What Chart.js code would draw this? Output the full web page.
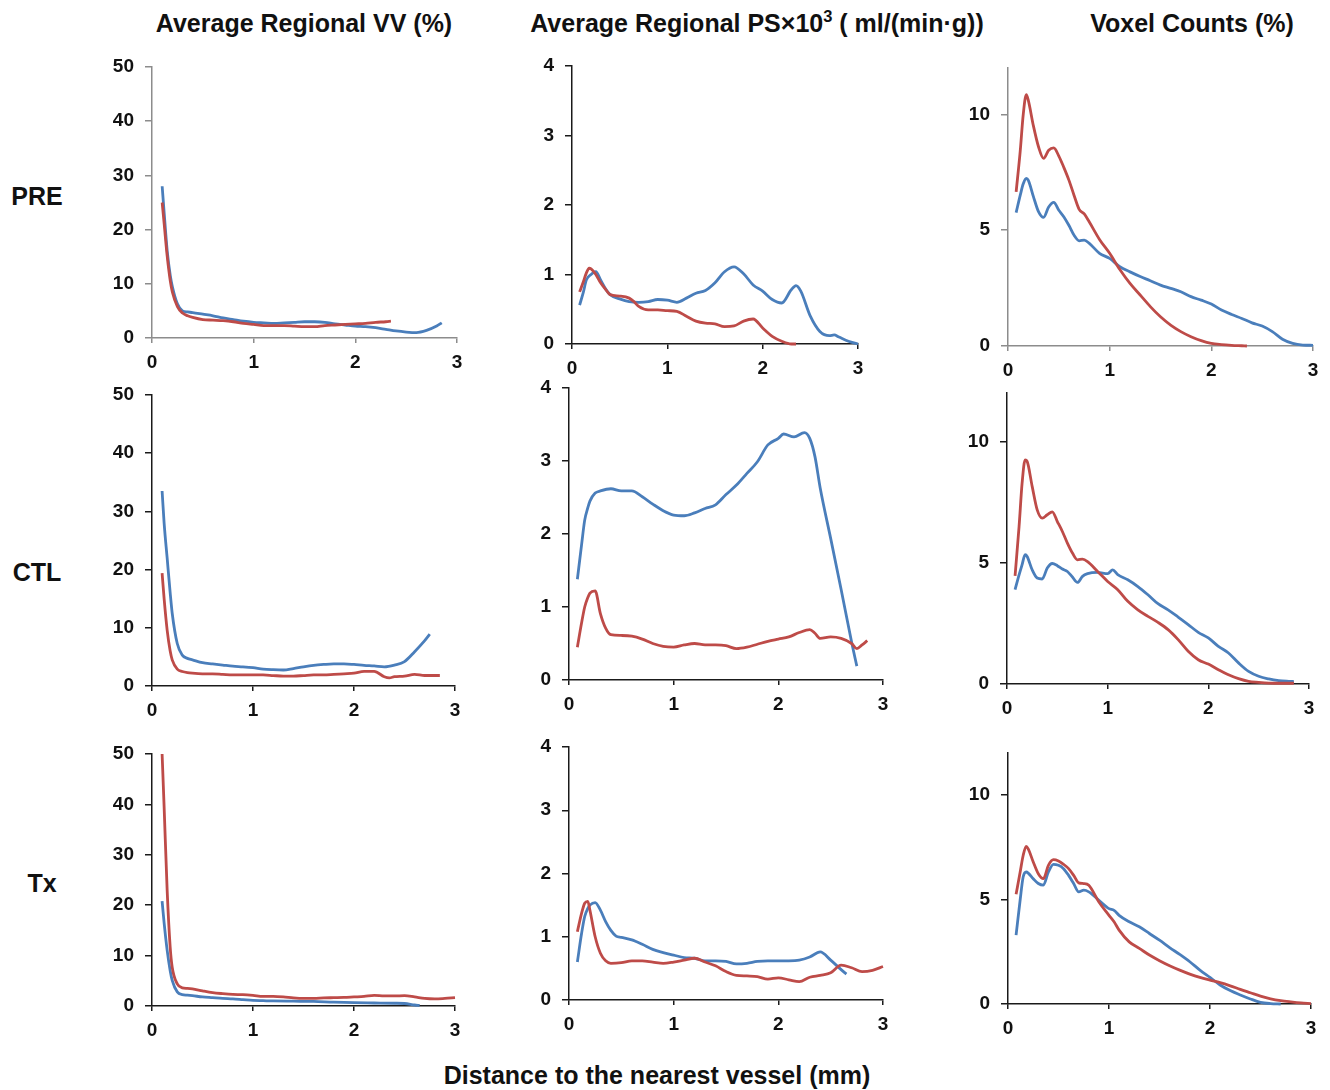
<!DOCTYPE html>
<html>
<head>
<meta charset="utf-8">
<script src="https://cdn.jsdelivr.net/npm/chart.js@4.4.1/dist/chart.umd.min.js"></script>
<style>
  body { margin: 0; width: 1330px; height: 1090px; background: #fff; position: relative; overflow: hidden;
         font-family: 'Liberation Sans', Arial, sans-serif; font-weight: bold; color: #111; }
  .label { position: absolute; white-space: nowrap; transform: translate(-50%, -50%); }
  .title { font-size: 25px; }
  .row { font-size: 25px; }
  .panel { position: absolute; }
  sup { font-size: 0.66em; vertical-align: 0.55em; line-height: 0; }
</style>
</head>
<body>
<div class="label title" style="left:304px; top:23px">Average Regional VV (%)</div>
<div class="label title" style="left:757px; top:23px">Average Regional PS×10<sup>3</sup> ( ml/(min·g))</div>
<div class="label title" style="left:1192px; top:23px">Voxel Counts (%)</div>
<div class="label row" style="left:37px; top:196px">PRE</div>
<div class="label row" style="left:37px; top:572px">CTL</div>
<div class="label row" style="left:42px; top:883px">Tx</div>
<div class="label title" style="left:657px; top:1075px">Distance to the nearest vessel (mm)</div>

<script>
// [distance (mm), value]
const vvPreRed = [[0.1,25],[0.12,21],[0.15,15],[0.18,10.5],[0.2,8.5],[0.25,5.8],[0.3,4.6],[0.35,4.1],[0.4,3.8],[0.5,3.4],[0.6,3.3],[0.7,3.2],[0.8,3.0],[0.9,2.7],[1.0,2.5],[1.1,2.3],[1.2,2.3],[1.3,2.3],[1.4,2.2],[1.5,2.1],[1.6,2.1],[1.7,2.3],[1.8,2.4],[1.9,2.5],[2.0,2.6],[2.1,2.7],[2.2,2.9],[2.3,3.0],[2.35,3.1]]
const vvPreBlue = [[0.1,28],[0.12,23],[0.15,16],[0.18,11.5],[0.2,9.5],[0.25,6.3],[0.3,5.0],[0.35,4.8],[0.4,4.7],[0.5,4.4],[0.6,4.1],[0.7,3.7],[0.8,3.4],[0.9,3.1],[1.0,2.9],[1.1,2.8],[1.2,2.7],[1.3,2.8],[1.4,2.9],[1.5,3.0],[1.6,3.0],[1.7,2.9],[1.8,2.6],[1.9,2.4],[2.0,2.2],[2.1,2.1],[2.2,1.9],[2.3,1.6],[2.4,1.3],[2.5,1.1],[2.6,1.0],[2.7,1.4],[2.8,2.2],[2.85,2.8]]

const psPreRed = [[0.08,0.75],[0.12,0.9],[0.15,1.02],[0.18,1.09],[0.2,1.08],[0.25,1.0],[0.3,0.88],[0.35,0.79],[0.4,0.71],[0.5,0.69],[0.6,0.66],[0.65,0.61],[0.7,0.54],[0.8,0.49],[0.9,0.49],[1.0,0.48],[1.1,0.47],[1.2,0.40],[1.3,0.33],[1.4,0.30],[1.5,0.29],[1.6,0.25],[1.7,0.26],[1.8,0.33],[1.9,0.36],[2.0,0.23],[2.1,0.11],[2.2,0.04],[2.3,0.0],[2.35,0.0]]
const psPreBlue = [[0.08,0.56],[0.12,0.75],[0.15,0.92],[0.2,1.0],[0.25,1.04],[0.3,0.92],[0.35,0.8],[0.4,0.71],[0.5,0.65],[0.6,0.61],[0.7,0.6],[0.8,0.61],[0.9,0.64],[1.0,0.63],[1.1,0.6],[1.2,0.66],[1.3,0.73],[1.4,0.77],[1.5,0.88],[1.6,1.04],[1.7,1.11],[1.8,1.01],[1.9,0.85],[2.0,0.76],[2.1,0.64],[2.2,0.59],[2.3,0.78],[2.35,0.84],[2.4,0.76],[2.5,0.40],[2.6,0.18],[2.7,0.12],[2.75,0.13],[2.8,0.10],[2.9,0.04],[3.0,0.0]]

const voxPreRed = [[0.08,6.65],[0.12,8.4],[0.15,10.0],[0.18,10.85],[0.2,10.6],[0.25,9.5],[0.3,8.6],[0.35,8.1],[0.4,8.45],[0.45,8.55],[0.5,8.2],[0.55,7.7],[0.6,7.15],[0.65,6.5],[0.7,5.9],[0.75,5.7],[0.8,5.35],[0.9,4.6],[1.0,4.0],[1.1,3.3],[1.2,2.7],[1.3,2.2],[1.4,1.7],[1.5,1.26],[1.6,0.9],[1.7,0.62],[1.8,0.4],[1.9,0.23],[2.0,0.11],[2.1,0.06],[2.2,0.03],[2.3,0.01],[2.35,0.0]]
const voxPreBlue = [[0.08,5.76],[0.12,6.5],[0.15,7.0],[0.18,7.23],[0.2,7.15],[0.25,6.45],[0.3,5.8],[0.35,5.55],[0.4,6.0],[0.45,6.2],[0.5,5.86],[0.55,5.57],[0.6,5.2],[0.65,4.78],[0.7,4.54],[0.75,4.57],[0.8,4.43],[0.9,4.0],[1.0,3.78],[1.1,3.42],[1.2,3.2],[1.3,3.0],[1.4,2.82],[1.5,2.63],[1.6,2.49],[1.7,2.34],[1.8,2.13],[1.9,1.98],[2.0,1.81],[2.1,1.55],[2.2,1.36],[2.3,1.19],[2.4,1.0],[2.5,0.86],[2.6,0.62],[2.7,0.29],[2.8,0.11],[2.9,0.04],[3.0,0.03]]

const vvCtlRed = [[0.1,19.4],[0.12,15],[0.15,9.6],[0.18,6],[0.2,4.5],[0.25,2.9],[0.3,2.5],[0.35,2.3],[0.4,2.2],[0.5,2.1],[0.6,2.1],[0.7,2.0],[0.8,1.9],[0.9,1.9],[1.0,1.9],[1.1,1.9],[1.2,1.8],[1.3,1.7],[1.4,1.7],[1.5,1.8],[1.6,1.9],[1.7,1.9],[1.8,2.0],[1.9,2.1],[2.0,2.2],[2.1,2.5],[2.2,2.5],[2.3,1.6],[2.35,1.4],[2.4,1.6],[2.5,1.7],[2.6,2.0],[2.7,1.8],[2.8,1.8],[2.85,1.8]]
const vvCtlBlue = [[0.1,33.5],[0.12,28],[0.15,22],[0.18,16],[0.2,12.5],[0.25,7.3],[0.3,5.3],[0.35,4.75],[0.4,4.5],[0.5,4.0],[0.6,3.8],[0.7,3.6],[0.8,3.4],[0.9,3.3],[1.0,3.15],[1.1,2.9],[1.2,2.8],[1.3,2.75],[1.4,3.0],[1.5,3.3],[1.6,3.55],[1.7,3.7],[1.8,3.8],[1.9,3.8],[2.0,3.7],[2.1,3.55],[2.2,3.45],[2.3,3.3],[2.4,3.6],[2.5,4.2],[2.6,5.9],[2.7,7.8],[2.75,8.9]]

const psCtlRed = [[0.08,0.45],[0.12,0.78],[0.15,1.0],[0.18,1.13],[0.2,1.19],[0.25,1.22],[0.3,0.91],[0.35,0.71],[0.4,0.62],[0.5,0.61],[0.6,0.6],[0.7,0.56],[0.8,0.5],[0.9,0.46],[1.0,0.45],[1.1,0.48],[1.2,0.5],[1.3,0.48],[1.4,0.48],[1.5,0.47],[1.6,0.43],[1.7,0.45],[1.8,0.49],[1.9,0.53],[2.0,0.56],[2.1,0.59],[2.2,0.65],[2.3,0.69],[2.35,0.64],[2.4,0.57],[2.5,0.59],[2.6,0.57],[2.7,0.5],[2.75,0.43],[2.8,0.48],[2.85,0.54]]
const psCtlBlue = [[0.08,1.38],[0.12,1.85],[0.15,2.19],[0.18,2.36],[0.2,2.45],[0.25,2.56],[0.3,2.59],[0.4,2.62],[0.5,2.59],[0.6,2.59],[0.7,2.51],[0.8,2.41],[0.9,2.32],[1.0,2.26],[1.1,2.25],[1.2,2.29],[1.3,2.35],[1.4,2.4],[1.5,2.54],[1.6,2.67],[1.7,2.83],[1.8,2.99],[1.9,3.22],[2.0,3.31],[2.05,3.37],[2.15,3.33],[2.25,3.39],[2.3,3.31],[2.35,3.06],[2.4,2.63],[2.5,1.94],[2.6,1.24],[2.7,0.52],[2.75,0.19]]

const voxCtlRed = [[0.08,4.46],[0.12,6.5],[0.15,8.28],[0.18,9.24],[0.2,9.18],[0.25,8.15],[0.3,7.18],[0.35,6.84],[0.4,6.98],[0.45,7.1],[0.5,6.7],[0.55,6.29],[0.6,5.81],[0.65,5.4],[0.7,5.12],[0.75,5.15],[0.8,5.05],[0.9,4.64],[1.0,4.23],[1.1,3.89],[1.2,3.41],[1.3,3.06],[1.4,2.79],[1.5,2.54],[1.6,2.24],[1.7,1.83],[1.8,1.35],[1.9,1.0],[2.0,0.82],[2.1,0.59],[2.2,0.38],[2.3,0.22],[2.4,0.11],[2.5,0.07],[2.6,0.04],[2.7,0.03],[2.8,0.03],[2.85,0.03]]
const voxCtlBlue = [[0.08,3.89],[0.12,4.5],[0.15,4.92],[0.18,5.33],[0.2,5.26],[0.25,4.71],[0.3,4.37],[0.35,4.33],[0.4,4.78],[0.45,4.97],[0.5,4.88],[0.55,4.74],[0.6,4.64],[0.65,4.41],[0.7,4.19],[0.75,4.44],[0.8,4.55],[0.9,4.6],[1.0,4.55],[1.05,4.71],[1.1,4.51],[1.2,4.3],[1.3,4.02],[1.4,3.68],[1.5,3.31],[1.6,3.06],[1.7,2.76],[1.8,2.45],[1.9,2.13],[2.0,1.9],[2.1,1.55],[2.2,1.28],[2.3,0.87],[2.4,0.52],[2.5,0.32],[2.6,0.21],[2.7,0.14],[2.8,0.11],[2.85,0.1]]

const vvTxRed = [[0.1,50],[0.12,39.5],[0.15,23],[0.18,11.7],[0.2,7.7],[0.25,4.4],[0.3,3.6],[0.35,3.5],[0.4,3.4],[0.5,3.0],[0.6,2.65],[0.7,2.45],[0.8,2.3],[0.9,2.25],[1.0,2.1],[1.1,1.9],[1.2,1.9],[1.3,1.8],[1.4,1.6],[1.5,1.5],[1.6,1.5],[1.7,1.6],[1.8,1.65],[1.9,1.7],[2.0,1.8],[2.1,1.9],[2.2,2.1],[2.3,2.0],[2.4,2.0],[2.5,2.05],[2.6,1.8],[2.7,1.5],[2.8,1.4],[2.9,1.5],[3.0,1.65]]
const vvTxBlue = [[0.1,20.8],[0.12,16.5],[0.15,11.1],[0.18,7],[0.2,5.1],[0.25,2.8],[0.3,2.25],[0.35,2.15],[0.4,2.05],[0.5,1.8],[0.6,1.65],[0.7,1.5],[0.8,1.4],[0.9,1.25],[1.0,1.1],[1.1,1.05],[1.2,1.0],[1.4,0.95],[1.6,0.9],[1.8,0.75],[2.0,0.65],[2.2,0.6],[2.4,0.55],[2.5,0.5],[2.6,0.2],[2.65,0.1]]

const psTxRed = [[0.08,1.08],[0.12,1.37],[0.15,1.53],[0.18,1.56],[0.2,1.42],[0.25,1.0],[0.3,0.74],[0.35,0.62],[0.4,0.58],[0.5,0.59],[0.6,0.62],[0.7,0.62],[0.8,0.6],[0.9,0.58],[1.0,0.6],[1.1,0.63],[1.2,0.66],[1.3,0.6],[1.4,0.54],[1.5,0.45],[1.6,0.39],[1.7,0.38],[1.8,0.37],[1.9,0.33],[2.0,0.35],[2.1,0.32],[2.2,0.29],[2.3,0.36],[2.4,0.39],[2.5,0.43],[2.6,0.55],[2.7,0.51],[2.8,0.45],[2.9,0.47],[3.0,0.53]]
const psTxBlue = [[0.08,0.6],[0.12,1.05],[0.15,1.32],[0.18,1.45],[0.2,1.5],[0.25,1.54],[0.3,1.42],[0.35,1.24],[0.4,1.1],[0.45,1.01],[0.5,0.99],[0.6,0.95],[0.7,0.88],[0.8,0.8],[0.9,0.75],[1.0,0.71],[1.1,0.67],[1.2,0.66],[1.3,0.62],[1.4,0.62],[1.5,0.61],[1.6,0.57],[1.7,0.58],[1.8,0.61],[1.9,0.62],[2.0,0.62],[2.1,0.62],[2.2,0.63],[2.3,0.68],[2.4,0.76],[2.5,0.63],[2.6,0.48],[2.65,0.41]]

const voxTxRed = [[0.08,5.25],[0.12,6.3],[0.15,7.1],[0.18,7.54],[0.2,7.42],[0.25,6.79],[0.3,6.23],[0.35,5.99],[0.4,6.63],[0.45,6.9],[0.5,6.84],[0.55,6.68],[0.6,6.47],[0.65,6.15],[0.7,5.79],[0.75,5.76],[0.8,5.68],[0.9,4.88],[1.0,4.24],[1.05,3.93],[1.1,3.53],[1.2,2.97],[1.3,2.66],[1.4,2.34],[1.5,2.07],[1.6,1.83],[1.7,1.62],[1.8,1.43],[1.9,1.27],[2.0,1.14],[2.1,1.02],[2.2,0.87],[2.3,0.7],[2.4,0.54],[2.5,0.38],[2.6,0.25],[2.7,0.16],[2.8,0.1],[2.9,0.05],[3.0,0.02]]
const voxTxBlue = [[0.08,3.29],[0.12,4.96],[0.15,6.07],[0.18,6.31],[0.2,6.26],[0.25,5.99],[0.3,5.76],[0.35,5.68],[0.4,6.31],[0.45,6.68],[0.5,6.63],[0.55,6.47],[0.6,6.15],[0.65,5.76],[0.7,5.36],[0.75,5.44],[0.8,5.36],[0.9,4.96],[1.0,4.56],[1.05,4.48],[1.1,4.24],[1.2,3.93],[1.3,3.69],[1.4,3.37],[1.5,3.05],[1.6,2.7],[1.7,2.37],[1.8,2.02],[1.9,1.62],[2.0,1.27],[2.1,0.91],[2.2,0.64],[2.3,0.43],[2.4,0.24],[2.5,0.08],[2.6,0.02],[2.7,0.0]]

// y axis settings per column
const vvAxis = {max: 50, step: 10}
const psAxis = {max: 4, step: 1}
const voxAxis = {max: 12, step: 5}

const RED = '#be4b48'
const BLUE = '#4a7ebb'
const GREY = '#8c8c8c'
const DARK = '#1a1a1a'

// plot box in page pixels: left axis x, top, right (x=3), bottom (y=0)
const panels = [
    {red: vvPreRed,  blue: vvPreBlue,  axis: vvAxis,  box: [152, 67, 457, 338],   line: GREY},
    {red: psPreRed,  blue: psPreBlue,  axis: psAxis,  box: [572, 66, 858, 344],   line: DARK},
    {red: voxPreRed, blue: voxPreBlue, axis: voxAxis, box: [1008, 68, 1313, 346], line: GREY},
    {red: vvCtlRed,  blue: vvCtlBlue,  axis: vvAxis,  box: [152, 395, 455, 686],  line: DARK},
    {red: psCtlRed,  blue: psCtlBlue,  axis: psAxis,  box: [569, 388, 883, 680],  line: DARK},
    {red: voxCtlRed, blue: voxCtlBlue, axis: voxAxis, box: [1007, 393, 1309, 684], line: DARK},
    {red: vvTxRed,   blue: vvTxBlue,   axis: vvAxis,  box: [152, 754, 455, 1006], line: DARK},
    {red: psTxRed,   blue: psTxBlue,   axis: psAxis,  box: [569, 747, 883, 1000], line: DARK},
    {red: voxTxRed,  blue: voxTxBlue,  axis: voxAxis, box: [1008, 753, 1311, 1004], line: DARK},
]

const PAD_L = 70
const PAD_T = 12
const PAD_R = 20
const PAD_B = 40

const tickFont = {family: "'Liberation Sans', Arial, sans-serif", size: 19, weight: 'bold'}

const toPoints = (pairs) => pairs.map(p => ({x: p[0], y: p[1]}))

const makePanel = (panel) => {
    const [left, top, right, bottom] = panel.box
    const width = PAD_L + (right - left) + PAD_R
    const height = PAD_T + (bottom - top) + PAD_B

    const canvas = document.createElement('canvas')
    canvas.className = 'panel'
    canvas.width = width
    canvas.height = height
    canvas.style.left = (left - PAD_L) + 'px'
    canvas.style.top = (top - PAD_T) + 'px'
    canvas.style.width = width + 'px'
    canvas.style.height = height + 'px'
    document.body.appendChild(canvas)

    const axisColor = panel.line

    new Chart(canvas, {
        type: 'line',
        data: {
            datasets: [
                {data: toPoints(panel.red), borderColor: RED},
                {data: toPoints(panel.blue), borderColor: BLUE},
            ]
        },
        options: {
            responsive: false,
            animation: false,
            events: [],
            layout: {padding: {left: 0, top: PAD_T, right: PAD_R, bottom: 0}},
            plugins: {legend: {display: false}, tooltip: {enabled: false}},
            elements: {
                point: {radius: 0},
                line: {borderWidth: 2.8, cubicInterpolationMode: 'monotone', fill: false}
            },
            datasets: {line: {clip: 4}},
            scales: {
                x: {
                    type: 'linear', min: 0, max: 3,
                    ticks: {stepSize: 1, font: tickFont, color: '#111', padding: 8, maxRotation: 0},
                    grid: {drawOnChartArea: false, tickLength: 5, color: axisColor, lineWidth: 1.5},
                    border: {color: axisColor, width: 1.5},
                    afterFit: (s) => { s.height = PAD_B; s.paddingLeft = 0; s.paddingRight = 0 }
                },
                y: {
                    min: 0, max: panel.axis.max,
                    ticks: {stepSize: panel.axis.step, font: tickFont, color: '#111', padding: 11},
                    afterBuildTicks: (s) => { s.ticks = s.ticks.filter(t => t.value % panel.axis.step === 0) },
                    grid: {drawOnChartArea: false, tickLength: 7, color: axisColor, lineWidth: 1.5},
                    border: {color: axisColor, width: 1.5},
                    afterFit: (s) => { s.width = PAD_L; s.paddingTop = 0; s.paddingBottom = 0 }
                }
            }
        }
    })
}

panels.forEach(makePanel)
</script>
</body>
</html>
